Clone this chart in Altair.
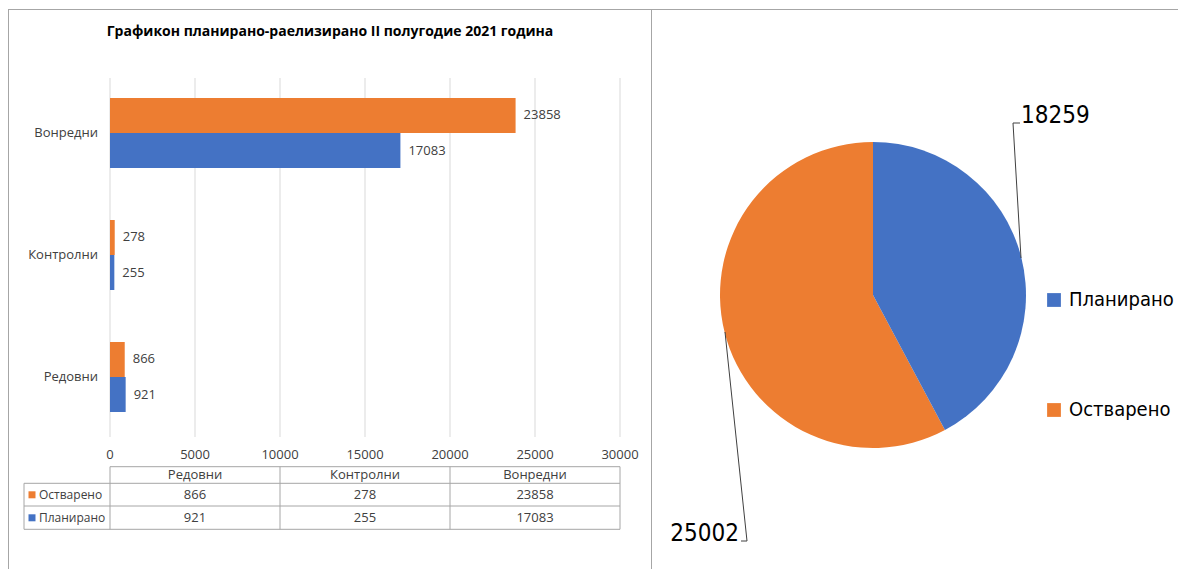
import altair as alt
import pandas as pd

# ---------------- data ----------------
categories = ["Редовни", "Контролни", "Вонредни"]
series_names = ["Планирано", "Остварено"]
planned = [921, 255, 17083]
realized = [866, 278, 23858]
x_ticks = [0, 5000, 10000, 15000, 20000, 25000, 30000]
title_text = "Графикон планирано-раелизирано II полугодие 2021 година"

BLUE = "#4472C4"
ORANGE = "#ED7D31"
F = "'Open Sans', 'Noto Sans', sans-serif"
NARROW = "'Liberation Sans Narrow', 'DejaVu Sans Condensed', sans-serif"
TXT = "#404040"
GRID = "#d9d9d9"
BORDER = "#a6a6a6"

rows = []
for c, p, r in zip(categories, planned, realized):
    rows.append({"cat": c, "series": "Остварено", "ord": 1, "value": r})
    rows.append({"cat": c, "series": "Планирано", "ord": 0, "value": p})
df = pd.DataFrame(rows)

# ---------------- scales ----------------
xs = alt.Scale(domain=[0, 30000], range=[102, 612], nice=False, zero=True)
ys = alt.Scale(type="band", domain=["Вонредни", "Контролни", "Редовни"], range=[64, 430],
               paddingInner=0.426, paddingOuter=0.213)
yoff = alt.Scale(type="band", domain=["Остварено", "Планирано"], paddingInner=0, paddingOuter=0)
cs = alt.Scale(domain=series_names, range=[BLUE, ORANGE])
colscale = alt.Scale(type="band", domain=categories, range=[102, 612], paddingInner=0, paddingOuter=0)
rowscale = alt.Scale(type="band", domain=["Остварено", "Планирано"], range=[475.3, 521.3],
                     paddingInner=0, paddingOuter=0)

one = pd.DataFrame({"a": [0]})


def hline(y, x1, x2, color=BORDER):
    return alt.Chart(one).mark_rule(color=color, strokeWidth=1).encode(
        x=alt.value(x1), x2=alt.value(x2), y=alt.value(y))


def vline(x, y1, y2, color=BORDER):
    return alt.Chart(one).mark_rule(color=color, strokeWidth=1).encode(
        x=alt.value(x), y=alt.value(y1), y2=alt.value(y2))


base = alt.Chart(df)

# ---------------- left panel: bars ----------------
title = alt.Chart(pd.DataFrame({"t": [title_text]})).mark_text(
    font=F, fontSize=14, fontWeight="bold", color="#000000", align="center", baseline="middle"
).encode(x=alt.value(322), y=alt.value(24), text="t:N")

grid = alt.Chart(pd.DataFrame({"t": x_ticks})).mark_rule(color=GRID, strokeWidth=1).encode(
    x=alt.X("t:Q", scale=xs, axis=None), y=alt.value(70), y2=alt.value(429))

tick_labels = alt.Chart(pd.DataFrame({"t": x_ticks})).mark_text(
    font=F, fontSize=13, color=TXT, baseline="middle", align="center"
).encode(x=alt.X("t:Q", scale=xs, axis=None), y=alt.value(447),
         text=alt.Text("t:Q", format="d"))

bars = base.mark_bar().encode(
    x=alt.X("value:Q", scale=xs, axis=None),
    y=alt.Y("cat:N", scale=ys, axis=None),
    yOffset=alt.YOffset("series:N", scale=yoff),
    color=alt.Color("series:N", scale=cs, legend=None),
)

bar_labels = base.mark_text(
    font=F, fontSize=13, color=TXT, align="left", baseline="middle", dx=8
).encode(
    x=alt.X("value:Q", scale=xs, axis=None),
    y=alt.Y("cat:N", scale=ys, axis=None),
    yOffset=alt.YOffset("series:N", scale=yoff),
    text=alt.Text("value:Q", format="d"),
)

cat_labels = alt.Chart(pd.DataFrame({"cat": categories})).mark_text(
    font=F, fontSize=13, color=TXT, align="right", baseline="middle"
).encode(x=alt.value(90), y=alt.Y("cat:N", scale=ys, axis=None), text="cat:N")

# ---------------- left panel: data table ----------------
table_header = alt.Chart(pd.DataFrame({"cat": categories})).mark_text(
    font=F, fontSize=13, color=TXT, align="center", baseline="middle"
).encode(x=alt.X("cat:N", scale=colscale, axis=None), y=alt.value(467), text="cat:N")

table_cells = base.mark_text(
    font=F, fontSize=13, color=TXT, align="center", baseline="middle"
).encode(
    x=alt.X("cat:N", scale=colscale, axis=None),
    y=alt.Y("series:N", scale=rowscale, axis=None),
    text=alt.Text("value:Q", format="d"),
)

row_df = pd.DataFrame({"series": ["Остварено", "Планирано"]})
row_keys = alt.Chart(row_df).mark_square(size=49, opacity=1).encode(
    x=alt.value(24),
    y=alt.Y("series:N", scale=rowscale, axis=None),
    color=alt.Color("series:N", scale=cs, legend=None),
)
row_labels = alt.Chart(row_df).mark_text(
    font=F, fontSize=12, color=TXT, align="left", baseline="middle"
).encode(x=alt.value(31), y=alt.Y("series:N", scale=rowscale, axis=None), text="series:N")

table_lines = [
    hline(458.7, 102, 612),
    hline(475.3, 16, 612),
    hline(498, 16, 612),
    hline(521.3, 16, 612),
    vline(16, 475.3, 521.3),
    vline(102, 458.7, 521.3),
    vline(272, 458.7, 521.3),
    vline(442, 458.7, 521.3),
    vline(612, 458.7, 521.3),
]

# ---------------- frame ----------------
frame = [
    hline(1.5, 0, 1170),
    vline(0.5, 1.5, 561),
    vline(643.5, 1.5, 561),
]

# ---------------- right panel: pie ----------------
pie_base = base.transform_aggregate(total="sum(value)", groupby=["series", "ord"])

pie = pie_base.mark_arc(outerRadius=153).encode(
    theta=alt.Theta("total:Q", stack=True),
    order=alt.Order("ord:Q"),
    color=alt.Color(
        "series:N", scale=cs,
        legend=alt.Legend(
            orient="none", legendX=1036, legendY=282, title=None,
            symbolType="square", symbolSize=190, symbolStrokeWidth=0,
            labelFont=NARROW, labelFontSize=20, labelColor="#000000",
            labelOffset=5, rowPadding=90, padding=0, labelLimit=200,
        ),
    ),
    x=alt.value(865),
    y=alt.value(287),
)

pie_label_blue = pie_base.transform_filter(alt.datum.series == "Планирано").mark_text(
    font=NARROW, fontSize=24, color="#000000", align="left", baseline="alphabetic"
).encode(x=alt.value(1013), y=alt.value(115), text=alt.Text("total:Q", format="d"))

pie_label_orange = pie_base.transform_filter(alt.datum.series == "Остварено").mark_text(
    font=NARROW, fontSize=24, color="#000000", align="right", baseline="alphabetic"
).encode(x=alt.value(731), y=alt.value(533), text=alt.Text("total:Q", format="d"))


def seg(x1, y1, x2, y2):
    return alt.Chart(one).mark_rule(color="#404040", strokeWidth=1).encode(
        x=alt.value(x1), y=alt.value(y1), x2=alt.value(x2), y2=alt.value(y2))


leaders = [
    seg(1013, 250, 1005, 115),
    seg(1005, 115, 1012, 115),
    seg(717, 324, 739, 533),
    seg(739, 533, 733, 533),
]

layers = frame + [grid, bars, bar_labels, cat_labels, tick_labels, title] + table_lines + [
    table_header, table_cells, row_keys, row_labels, pie, pie_label_blue, pie_label_orange
] + leaders

chart = alt.layer(*layers).resolve_scale(
    x="independent", y="independent", color="independent", yOffset="independent"
).properties(
    width=1170, height=561, padding=0, autosize=alt.AutoSizeParams(type="none"),
    background="#ffffff",
).configure_view(stroke=None)

chart.save("out.html", embed_options={"renderer": "svg", "actions": False})
